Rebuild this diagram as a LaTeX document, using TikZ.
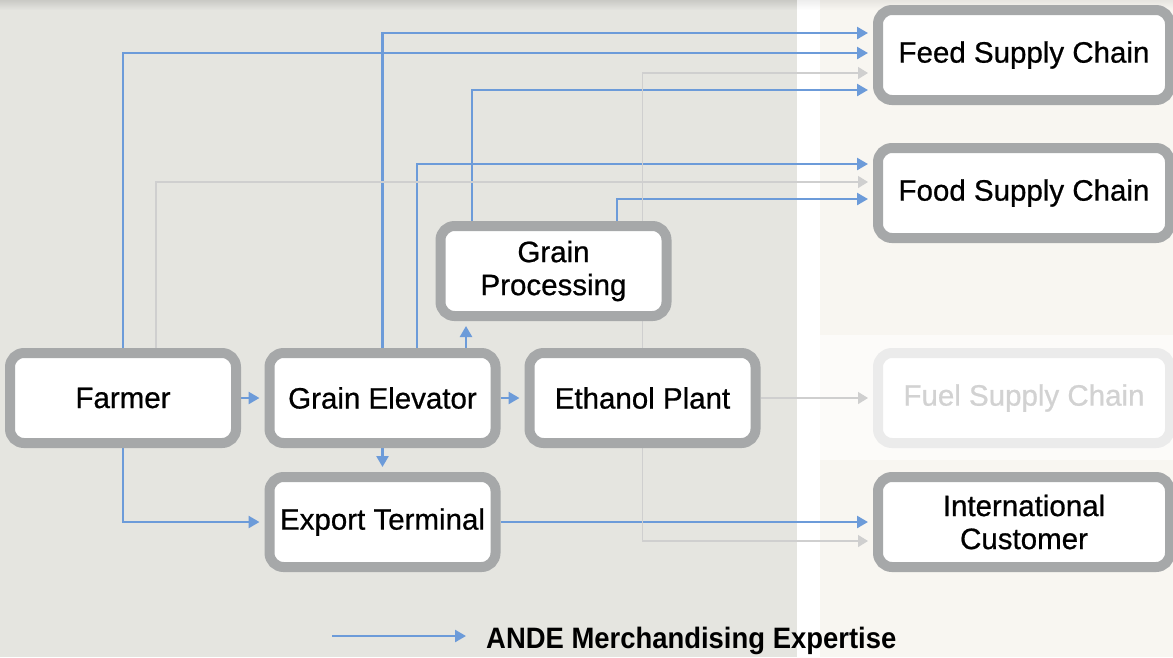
\documentclass[tikz,border=0pt]{standalone}
\usepackage{fontspec}
\setmainfont{Liberation Sans}
\newfontfamily\boxfont[RawFeature={embolden=0.7}]{Liberation Sans}
\usetikzlibrary{arrows.meta}

\definecolor{leftbg}{HTML}{E5E5E0}
\definecolor{rightbg}{HTML}{F8F6F1}
\definecolor{bandbg}{HTML}{FCFBF9}
\definecolor{boxgray}{HTML}{A6A8A9}
\definecolor{fadedbox}{HTML}{EBEBEB}
\definecolor{fadedtext}{HTML}{D2D2D2}
\definecolor{flowblue}{HTML}{6C9BD9}
\definecolor{flowgray}{HTML}{CFCFCF}

\pgfdeclarelayer{bg}
\pgfdeclarelayer{links}
\pgfsetlayers{bg,links,main}

\begin{document}
\begin{tikzpicture}[x=1pt,y=-1pt,
  stage/.style={draw=boxgray, line width=10pt, fill=white, rounded corners=14pt,
    minimum width=226pt, minimum height=90pt, inner sep=0pt, align=center,
    font=\boxfont\fontsize{29.5}{33}\selectfont},
  market/.style={stage, minimum width=292pt},
  faded/.style={draw=fadedbox, text=fadedtext},
  merch/.style={draw=flowblue, line width=2.5pt, shorten >=5pt,
    -{Triangle[length=11pt,width=12pt]}},
  other/.style={draw=flowgray, line width=1.3pt, shorten >=5pt,
    -{Triangle[length=10pt,width=12pt]}}
]
\useasboundingbox (0,0) rectangle (1173,657);

% backdrop panels
\begin{pgfonlayer}{bg}
  \fill[leftbg] (0,0) rectangle (797,657);
  \fill[white] (797,0) rectangle (820,657);
  \fill[rightbg] (820,0) rectangle (1173,657);
  \fill[bandbg] (820,335) rectangle (1173,460);
  \shade[top color=leftbg!88!black, bottom color=leftbg] (0,0) rectangle (797,10);
  \shade[top color=white!93!black, bottom color=white] (797,0) rectangle (820,10);
  \shade[top color=rightbg!93!black, bottom color=rightbg] (820,0) rectangle (1173,10);
\end{pgfonlayer}

% stages of the chain
\node[stage] (farmer) at (123,398) {Farmer};
\node[stage] (elev) at (382.5,398) {Grain Elevator};
\node[stage] (export) at (382.5,522) {Export Terminal};
\node[stage] (proc) at (553.5,271) {Grain\\Processing};
\node[stage] (eth) at (642.5,398) {Ethanol Plant};

% end markets
\node[market] (feed) at (1024,55) {Feed Supply Chain};
\node[market] (food) at (1024,193) {Food Supply Chain};
\node[market, faded] (fuel) at (1024,398) {Fuel Supply Chain};
\node[market] (intl) at (1024,522) {International\\Customer};

\begin{pgfonlayer}{links}
  % merchandising flows
  \draw[merch] (farmer) -- (elev);
  \draw[merch] (elev) -- (eth);
  \draw[merch] (elev) -- (export);
  \draw[merch] ([xshift=83.5pt]elev.north) -- ([xshift=-87.5pt]proc.south);
  \draw[merch] (farmer.south) |- (export.west);
  \draw[merch] (farmer.north) |- ([yshift=2pt]feed.west);
  \draw[merch] (elev.north) |- ([yshift=22pt]feed.west);
  \draw[merch] ([xshift=34.5pt]elev.north) |- ([yshift=29pt]food.west);
  \draw[merch] ([xshift=-81.5pt]proc.north) |- ([yshift=-35pt]feed.west);
  \draw[merch] ([xshift=63.5pt]proc.north) |- ([yshift=-6pt]food.west);
  \draw[merch] (export.east) -- (intl.west);
  % other flows
  \draw[other] ([xshift=33pt]farmer.north) |- ([yshift=11pt]food.west);
  \draw[other] (eth.north) |- ([yshift=-18pt]feed.west);
  \draw[other] (eth.south) |- ([yshift=-19pt]intl.west);
  \draw[other] (eth.east) -- (fuel.west);
\end{pgfonlayer}

% key
\coordinate (keyA) at (332,636);
\coordinate (keyB) at (466,636);
\draw[merch, shorten >=0pt] (keyA) -- (keyB);
\node[anchor=base west, inner sep=0pt] (keytext) at (486,648)
  {\scalebox{0.93}[1]{\fontsize{29.5}{33}\selectfont\bfseries ANDE Merchandising Expertise}};
\end{tikzpicture}
\end{document}
